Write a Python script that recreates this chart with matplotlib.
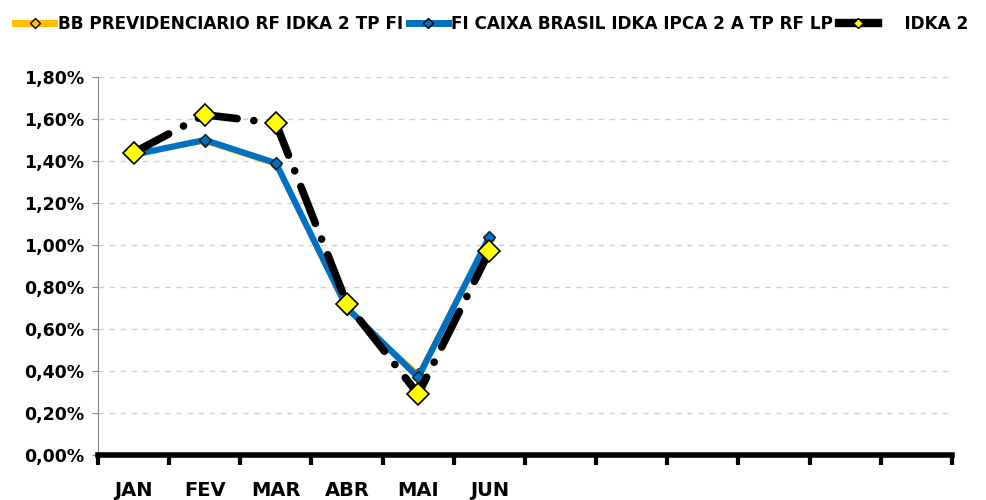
import numpy as np
import matplotlib
matplotlib.use("Agg")
import matplotlib.pyplot as plt
from matplotlib.ticker import FuncFormatter, FixedLocator
from matplotlib.lines import Line2D

months = ['JAN', 'FEV', 'MAR', 'ABR', 'MAI', 'JUN', '', '', '', '', '', '']
bb_prev = [1.44, 1.49, 1.38, 0.69, 0.39, 1.03]
caixa = [1.43, 1.50, 1.39, 0.70, 0.37, 1.04]
idka2 = [1.44, 1.62, 1.58, 0.72, 0.29, 0.97]
names = ['BB PREVIDENCIARIO RF IDKA 2 TP FI', 'FI CAIXA BRASIL IDKA IPCA 2 A TP RF LP', '    IDKA 2']

plt.rcParams['font.family'] = ['DejaVu Sans']
plt.rcParams['font.weight'] = 'bold'

fig = plt.figure(figsize=(9.86, 5.0), dpi=100)
ax = fig.add_axes([0.0994, 0.09, 0.866, 0.756])

x = np.arange(len(bb_prev))
ax.plot(x, np.array(bb_prev) / 100, color='#FFC000', lw=2.5, marker='D', ms=5,
        mfc='#FFC000', mec='#333333', mew=1, zorder=3)
ax.plot(x, np.array(caixa) / 100, color='#0070C0', lw=4.5, marker='D', ms=6,
        mfc='#0070C0', mec='#1a1a1a', mew=1, zorder=4)
ln, = ax.plot(x, np.array(idka2) / 100, color='black', lw=5.5, marker='D', ms=11,
              mfc='#FFFF00', mec='black', mew=1.2, zorder=5,
              dash_capstyle='round')
ln.set_dashes((5.2, 2.2, 0.01, 2.2))

ax.set_xlim(-0.5, 11.5)
ax.set_ylim(0, 0.018)
ax.set_yticks(np.arange(0, 0.0181, 0.002))
ax.yaxis.set_major_formatter(FuncFormatter(lambda v, p: f'{v*100:.2f}%'.replace('.', ',')))
ax.grid(axis='y', color='#D0D0D0', ls=(0, (4, 4)), lw=1)
ax.set_axisbelow(True)

ax.set_xticks(np.arange(12))
ax.set_xticklabels(months)
ax.tick_params(axis='x', which='major', length=0, pad=19, labelsize=14)
ax.xaxis.set_minor_locator(FixedLocator(np.arange(-0.5, 12, 1)))
ax.tick_params(axis='x', which='minor', length=7, width=3, direction='out', color='black')
ax.tick_params(axis='y', length=4, color='#888888', labelsize=12.5, pad=6)

for s in ['top', 'right']:
    ax.spines[s].set_visible(False)
ax.spines['left'].set_color('#888888')
ax.spines['bottom'].set_linewidth(4)
ax.spines['bottom'].set_color('black')

handles = [
    Line2D([], [], color='#FFC000', lw=5, marker='D', ms=5, mfc='#FFC000', mec='black', mew=1),
    Line2D([], [], color='#0070C0', lw=5, marker='D', ms=5, mfc='#0070C0', mec='black', mew=1),
    Line2D([], [], color='black', lw=6, marker='D', ms=5, mfc='#FFFF00', mec='black', mew=1),
]
fig.legend(handles, names, loc='upper left', bbox_to_anchor=(0.0, 1.0), ncol=3, frameon=False,
           fontsize=12.2, handlelength=2.3, columnspacing=0.35, handletextpad=0.2)

fig.savefig('out.png', dpi=100)
